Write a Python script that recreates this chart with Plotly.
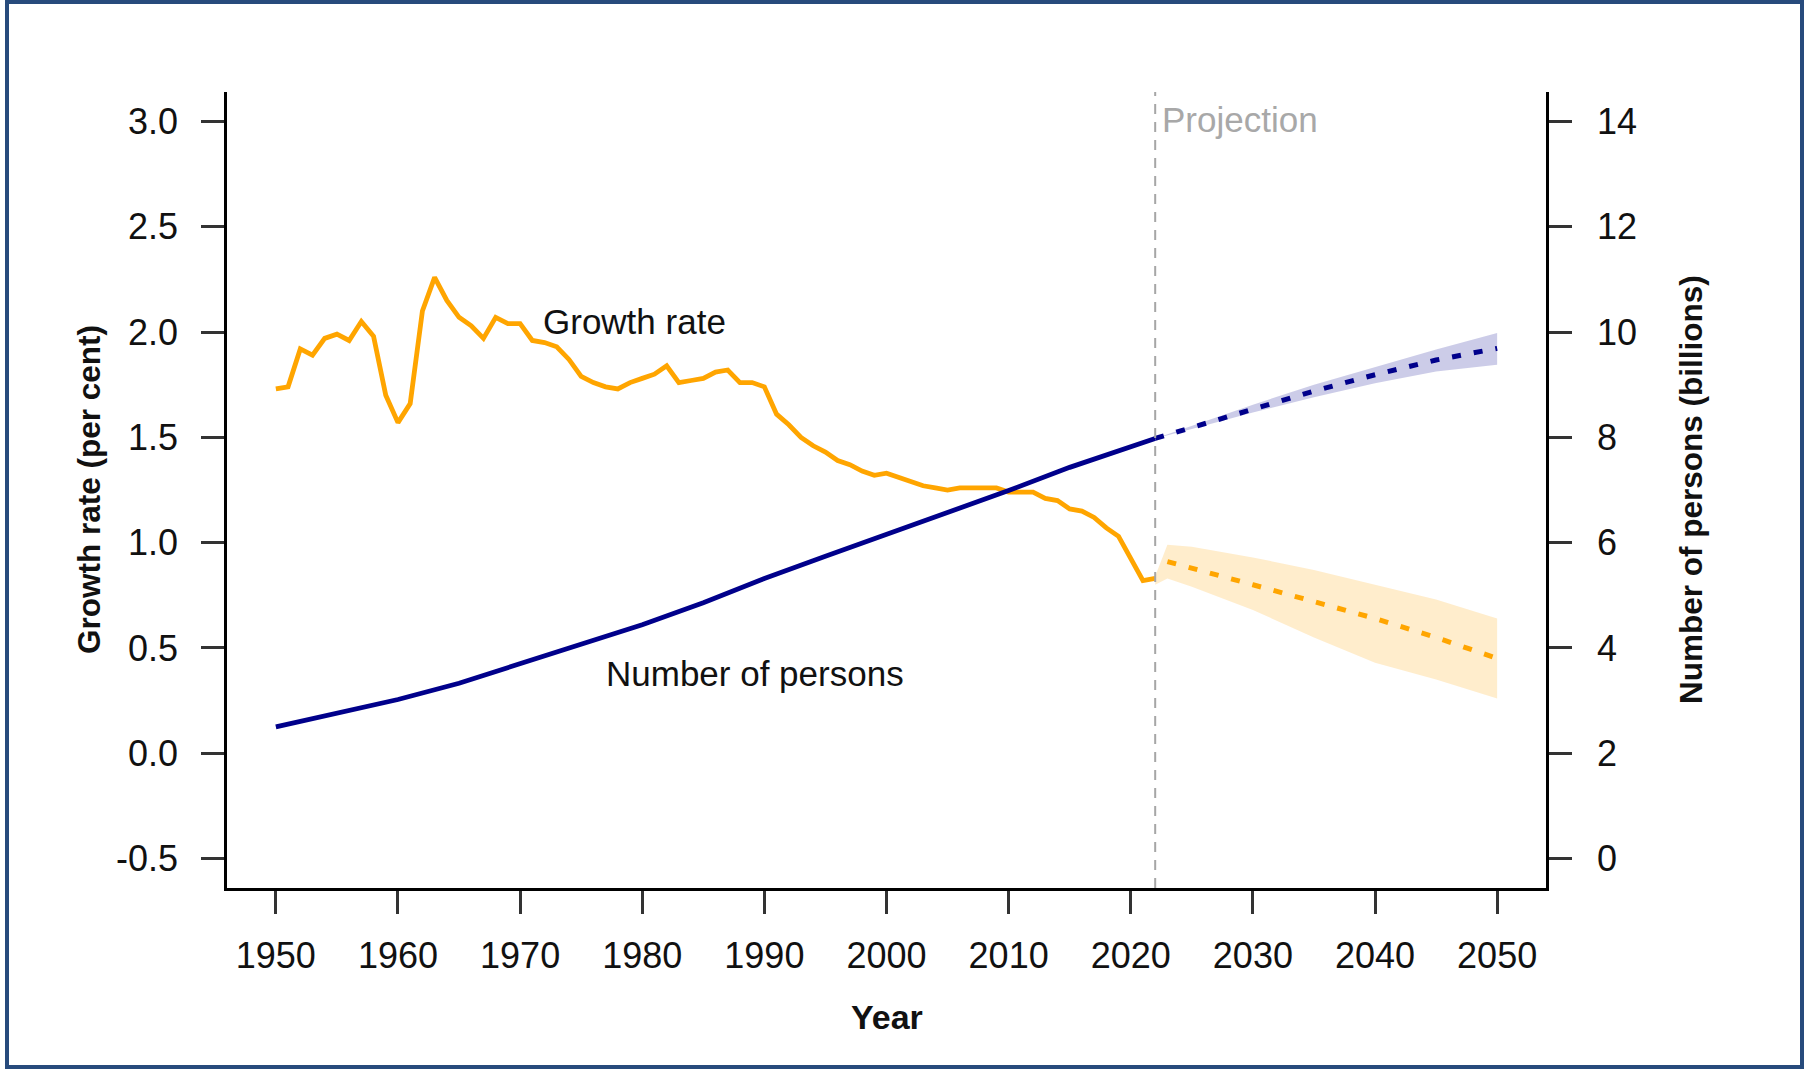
import plotly.graph_objects as go

# ---- Data -------------------------------------------------------------
# Annual growth rate of world population (per cent), estimates 1950-2022
growth_years = list(range(1950, 2023))
growth_rate = [
    1.73, 1.74, 1.92, 1.89, 1.97, 1.99, 1.96, 2.05, 1.98, 1.70,   # 1950-1959
    1.57, 1.66, 2.10, 2.26, 2.15, 2.07, 2.03, 1.97, 2.07, 2.04,   # 1960-1969
    2.04, 1.96, 1.95, 1.93, 1.87, 1.79, 1.76, 1.74, 1.73, 1.76,   # 1970-1979
    1.78, 1.80, 1.84, 1.76, 1.77, 1.78, 1.81, 1.82, 1.76, 1.76,   # 1980-1989
    1.74, 1.61, 1.56, 1.50, 1.46, 1.43, 1.39, 1.37, 1.34, 1.32,   # 1990-1999
    1.33, 1.31, 1.29, 1.27, 1.26, 1.25, 1.26, 1.26, 1.26, 1.26,   # 2000-2009
    1.24, 1.24, 1.24, 1.21, 1.20, 1.16, 1.15, 1.12, 1.07, 1.03,   # 2010-2019
    0.92, 0.82, 0.83,                                             # 2020-2022
]

# Projected growth rate (median) with 95 per cent prediction interval
growth_proj_years = [2023, 2025, 2030, 2035, 2040, 2045, 2050]
growth_proj = [0.91, 0.88, 0.80, 0.72, 0.64, 0.55, 0.45]
growth_band_years = [2022, 2023, 2025, 2030, 2035, 2040, 2045, 2050]
growth_upper = [0.84, 0.99, 0.98, 0.93, 0.87, 0.80, 0.73, 0.64]
growth_lower = [0.80, 0.83, 0.79, 0.68, 0.55, 0.43, 0.35, 0.26]

# World population (billions), estimates
pop_years = [1950, 1955, 1960, 1965, 1970, 1975, 1980, 1985, 1990,
             1995, 2000, 2005, 2010, 2015, 2020, 2022]
population = [2.50, 2.75, 3.02, 3.33, 3.70, 4.07, 4.44, 4.86, 5.32,
              5.74, 6.15, 6.56, 6.99, 7.43, 7.84, 7.98]

# Projected population (median) with 95 per cent prediction interval
pop_proj_years = [2022, 2025, 2030, 2035, 2040, 2045, 2050]
pop_proj = [7.98, 8.19, 8.55, 8.88, 9.19, 9.47, 9.69]
pop_upper = [7.98, 8.22, 8.62, 9.00, 9.34, 9.67, 9.98]
pop_lower = [7.98, 8.16, 8.47, 8.76, 9.03, 9.25, 9.38]

projection_start = 2022

x_ticks = [1950, 1960, 1970, 1980, 1990, 2000, 2010, 2020, 2030, 2040, 2050]
y_ticks = [-0.5, 0.0, 0.5, 1.0, 1.5, 2.0, 2.5, 3.0]
y_tick_labels = ["-0.5", "0.0", "0.5", "1.0", "1.5", "2.0", "2.5", "3.0"]
y2_ticks = [0, 2, 4, 6, 8, 10, 12, 14]

# ---- Styling ----------------------------------------------------------
ORANGE = "#FFA500"
NAVY = "#00008B"
FONT = "Liberation Sans, Arial, sans-serif"
W, H = 1808, 1070
L, R, T, B = 227, 262, 92, 182
PW, PH = W - L - R, H - T - B


def px_to_paper_x(px):
    return (px - L) / PW


def px_to_paper_y(py):
    return (H - B - py) / PH


fig = go.Figure()

# Uncertainty bands
fig.add_trace(go.Scatter(
    x=growth_band_years + growth_band_years[::-1],
    y=growth_upper + growth_lower[::-1],
    fill="toself", fillcolor="rgba(255,165,0,0.2)",
    line=dict(width=0), mode="lines", hoverinfo="skip", showlegend=False,
))
fig.add_trace(go.Scatter(
    x=pop_proj_years + pop_proj_years[::-1],
    y=pop_upper + pop_lower[::-1],
    fill="toself", fillcolor="rgba(0,0,139,0.2)",
    line=dict(width=0), mode="lines", hoverinfo="skip", showlegend=False,
    yaxis="y2",
))

# Growth rate: estimates and projection
fig.add_trace(go.Scatter(
    x=growth_years, y=growth_rate, mode="lines",
    line=dict(color=ORANGE, width=4.8), showlegend=False,
))
fig.add_trace(go.Scatter(
    x=growth_proj_years, y=growth_proj, mode="lines",
    line=dict(color=ORANGE, width=5, dash="9px,13px"), showlegend=False,
))

# Population: estimates and projection
fig.add_trace(go.Scatter(
    x=pop_years, y=population, mode="lines",
    line=dict(color=NAVY, width=4.8), showlegend=False, yaxis="y2",
))
fig.add_trace(go.Scatter(
    x=pop_proj_years, y=pop_proj, mode="lines",
    line=dict(color=NAVY, width=5, dash="9px,13px"), showlegend=False,
    yaxis="y2",
))

axis_common = dict(
    showgrid=False, zeroline=False, showline=True, linecolor="black",
    linewidth=2.5, ticks="outside", ticklen=23, tickwidth=2.5,
    tickcolor="#333333", tickfont=dict(family=FONT, size=36, color="#111111"),
)

label_font = dict(family=FONT, size=35, color="#111111")
title_font = dict(family=FONT, size=31.5, color="#111111")

fig.update_layout(
    width=W, height=H,
    margin=dict(l=L, r=R, t=T, b=B, autoexpand=False),
    paper_bgcolor="white", plot_bgcolor="white",
    xaxis=dict(range=[1946, 2054], tickvals=x_ticks, ticklabelstandoff=11,
               **axis_common),
    yaxis=dict(range=[-0.64, 3.14], tickvals=y_ticks, ticktext=y_tick_labels,
               ticklabelstandoff=16, **axis_common),
    yaxis2=dict(range=[-0.56, 14.56], tickvals=y2_ticks, overlaying="y",
                side="right", ticklabelstandoff=18, **axis_common),
    shapes=[
        # projection divider
        dict(type="line", xref="x", yref="paper", x0=projection_start,
             x1=projection_start, y0=0, y1=1,
             line=dict(color="#A6A6A6", width=2, dash="10px,8px")),
        # outer frame
        dict(type="rect", xref="paper", yref="paper",
             x0=px_to_paper_x(7), x1=px_to_paper_x(1802),
             y0=px_to_paper_y(1067), y1=px_to_paper_y(2),
             line=dict(color="#274B7C", width=4)),
    ],
    annotations=[
        dict(text="Growth rate", x=1979.4, y=2.05, xref="x", yref="y",
             xanchor="center", yanchor="middle", showarrow=False,
             font=label_font),
        dict(text="Number of persons", x=1989.2, y=0.38, xref="x", yref="y",
             xanchor="center", yanchor="middle", showarrow=False,
             font=label_font),
        dict(text="Projection", x=2022.4, y=3.01, xref="x", yref="y",
             xanchor="left", yanchor="middle", showarrow=False,
             font=dict(family=FONT, size=35, color="#A8A8A8")),
        dict(text="<b>Year</b>", x=0.5, y=px_to_paper_y(1017), xref="paper",
             yref="paper", xanchor="center", yanchor="middle",
             showarrow=False, font=dict(family=FONT, size=34, color="#111111")),
        dict(text="<b>Growth rate (per cent)</b>", x=px_to_paper_x(89),
             y=0.5, xref="paper", yref="paper", textangle=-90,
             xanchor="center", yanchor="middle", showarrow=False,
             font=title_font),
        dict(text="<b>Number of persons (billions)</b>", x=px_to_paper_x(1691),
             y=0.5, xref="paper", yref="paper", textangle=-90,
             xanchor="center", yanchor="middle", showarrow=False,
             font=title_font),
    ],
)

fig.write_html("out.html")
